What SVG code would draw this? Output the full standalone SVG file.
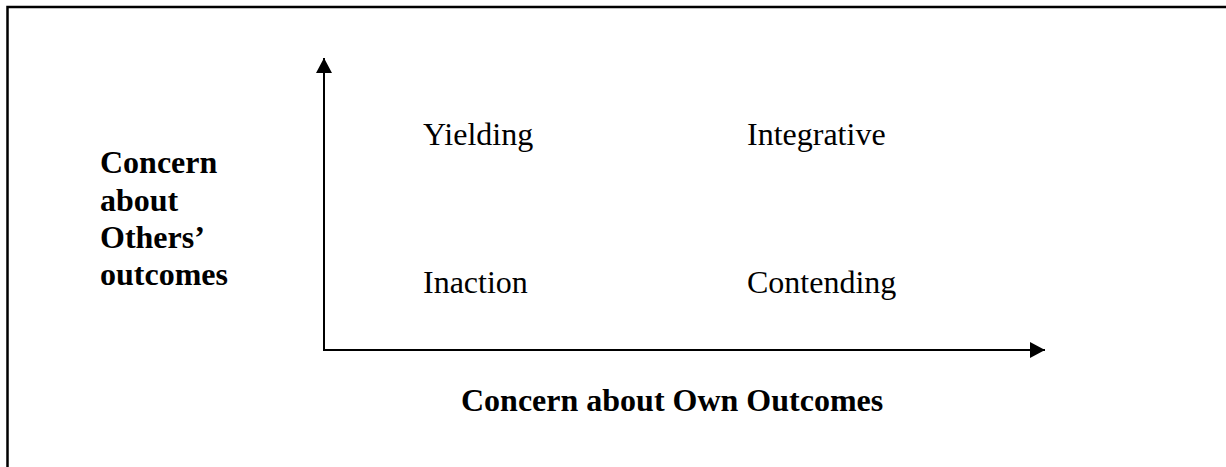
<svg xmlns="http://www.w3.org/2000/svg" width="1226" height="467" viewBox="0 0 1226 467">
<style>
.lbl{font-family:"Liberation Serif","Times New Roman",serif;font-size:32px;fill:#000}
.b{font-weight:bold}
.ax{stroke:#000;stroke-width:2;fill:none}
</style>
<defs>
<marker id="ah" markerWidth="16" markerHeight="16" refX="15" refY="8" orient="auto" markerUnits="userSpaceOnUse">
<path d="M0,0 L15,8 L0,16 Z" fill="#000"/>
</marker>
</defs>
<rect x="0" y="0" width="1226" height="467" fill="#fff"/>
<rect id="frame" x="7.5" y="7" width="1240" height="480" fill="none" stroke="#000" stroke-width="2.5"/>
<g id="connectors">
<line id="y-axis" class="ax" x1="324" y1="351" x2="324" y2="58" marker-end="url(#ah)"/>
<line id="x-axis" class="ax" x1="323" y1="350" x2="1045" y2="350" marker-end="url(#ah)"/>
</g>
<g id="y-label"><text class="lbl b" x="100"><tspan x="100" y="173">Concern</tspan><tspan x="100" y="210.5">about</tspan><tspan x="100" y="248">Others’</tspan><tspan x="100" y="285">outcomes</tspan></text></g>
<g id="x-label"><text class="lbl b" x="461" y="411">Concern about Own Outcomes</text></g>
<g id="yielding"><text class="lbl" x="423" y="145">Yielding</text></g>
<g id="integrative"><text class="lbl" x="747" y="145">Integrative</text></g>
<g id="inaction"><text class="lbl" x="423" y="293">Inaction</text></g>
<g id="contending"><text class="lbl" x="747" y="293">Contending</text></g>
</svg>
